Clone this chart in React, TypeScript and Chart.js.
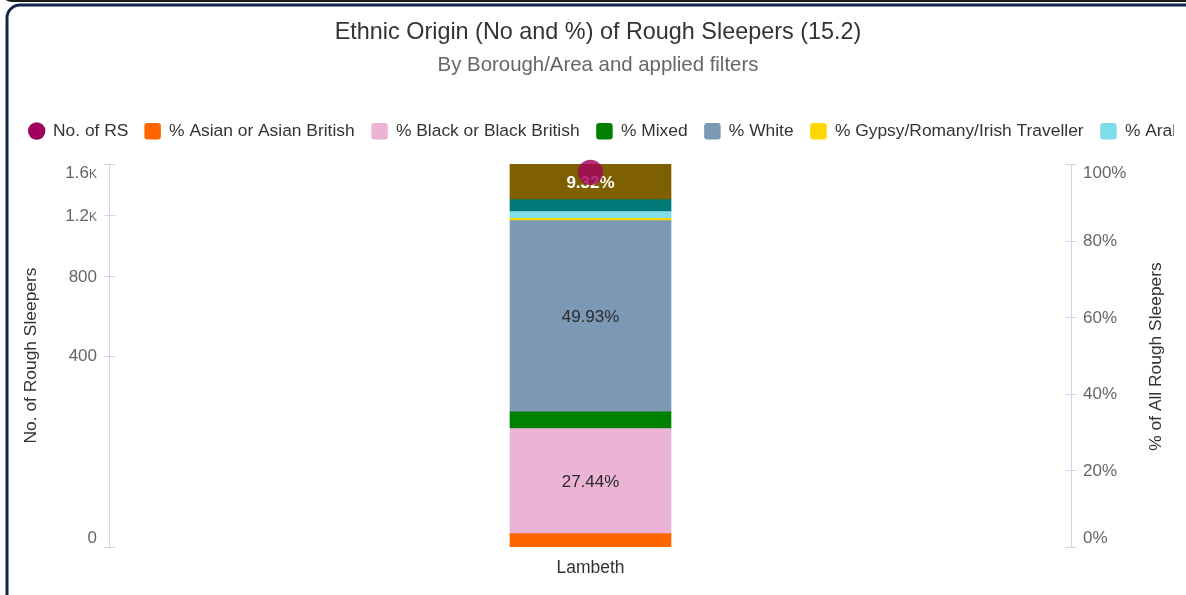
import React, { useEffect, useRef } from 'react';
import { Chart, LinearScale, registerables } from 'chart.js';

// ---- custom square-root scale (left axis of the reference is sqrt-scaled) ----
class SqrtScale extends LinearScale {
  static id = 'sqrt';
  static defaults = {};
  getPixelForValue(value: number) {
    const lo = Math.sqrt(Math.max(0, this.min));
    const hi = Math.sqrt(Math.max(0, this.max));
    const v = Math.sqrt(Math.max(0, value));
    return this.getPixelForDecimal((v - lo) / (hi - lo));
  }
  getValueForPixel(pixel: number) {
    const lo = Math.sqrt(Math.max(0, this.min));
    const hi = Math.sqrt(Math.max(0, this.max));
    const s = lo + this.getDecimalForPixel(pixel) * (hi - lo);
    return s * s;
  }
}
Chart.register(...registerables, SqrtScale as any);

// ---------------- DATA ----------------
const categories = ['Lambeth'];
const rsCount = [1530];
const asianPct = [3.5];
const blackPct = [27.44];
const mixedPct = [4.35];
const whitePct = [49.93];
const gypsyPct = [0.62];
const arabPct = [1.75];
const otherPct = [3.09];
const notKnownPct = [9.32];

const leftTickValues = [0, 400, 800, 1200, 1600];
const leftTickLabels = ['0', '400', '800', '1.2k', '1.6k'];
const rightTickValues = [0, 20, 40, 60, 80, 100];
const rightTickLabels = ['0%', '20%', '40%', '60%', '80%', '100%'];

const titleText = 'Ethnic Origin (No and %) of Rough Sleepers (15.2)';
const subtitleText = 'By Borough/Area and applied filters';
const leftAxisTitle = 'No. of Rough Sleepers';
const rightAxisTitle = '% of All Rough Sleepers';
const countSeriesName = 'No. of RS';

// ---------------- STYLE ----------------
const FONT = "'Liberation Sans', Arial, Helvetica, sans-serif";
const countColor = 'rgba(162, 4, 92, 0.82)';
const countLegendColor = '#a1025c';

const barSeries = [
  { label: '% Asian or Asian British', data: asianPct, color: '#ff6600', labelColor: '#2b2b2b', bold: false },
  { label: '% Black or Black British', data: blackPct, color: '#ebb3d6', labelColor: '#2b2b2b', bold: false },
  { label: '% Mixed', data: mixedPct, color: '#008000', labelColor: '#ffffff', bold: true },
  { label: '% White', data: whitePct, color: '#7b98b5', labelColor: '#2b2b2b', bold: false },
  { label: '% Gypsy/Romany/Irish Traveller', data: gypsyPct, color: '#ffd700', labelColor: '#2b2b2b', bold: false },
  { label: '% Arab', data: arabPct, color: '#7fdde9', labelColor: '#2b2b2b', bold: false },
  { label: '% Other Ethnic Group', data: otherPct, color: '#007a78', labelColor: '#ffffff', bold: true },
  { label: '% Not Known', data: notKnownPct, color: '#7f6000', labelColor: '#ffffff', bold: true },
];

const LABEL_MIN = 9;

const decorPlugin = {
  id: 'decor',
  beforeDraw(chart: any) {
    const ctx = chart.ctx as CanvasRenderingContext2D;
    const W = chart.width;
    ctx.save();
    ctx.fillStyle = '#ffffff';
    ctx.fillRect(0, 0, W, chart.height);

    // bottom edge of the container above
    ctx.strokeStyle = '#1a1a1a';
    ctx.lineWidth = 2;
    ctx.beginPath();
    ctx.moveTo(2, -20);
    ctx.lineTo(2, -9);
    ctx.arcTo(2, 1, 14, 1, 10);
    ctx.lineTo(W + 10, 1);
    ctx.stroke();

    // main rounded frame
    ctx.strokeStyle = '#15244a';
    ctx.lineWidth = 3;
    ctx.beginPath();
    ctx.moveTo(7, chart.height + 20);
    ctx.lineTo(7, 5 + 13);
    ctx.arcTo(7, 5, 20, 5, 13);
    ctx.lineTo(W + 20, 5);
    ctx.stroke();

    // title & subtitle
    ctx.textAlign = 'center';
    ctx.textBaseline = 'middle';
    ctx.fillStyle = '#333333';
    ctx.font = `23.4px ${FONT}`;
    ctx.fillText(titleText, 598, 32.5);
    ctx.fillStyle = '#666666';
    ctx.font = `20.4px ${FONT}`;
    ctx.fillText(subtitleText, 598, 65);

    // legend (single row, clipped at the frame edge)
    ctx.save();
    ctx.beginPath();
    ctx.rect(0, 105, 1174, 55);
    ctx.clip();
    ctx.font = `17.4px ${FONT}`;
    ctx.textAlign = 'left';
    ctx.textBaseline = 'middle';
    const ly = 131;
    let x = 28;
    // count series (circle marker)
    ctx.fillStyle = countLegendColor;
    ctx.beginPath();
    ctx.arc(x + 8.7, ly, 8.7, 0, Math.PI * 2);
    ctx.fill();
    x += 17.4 + 7.6;
    ctx.fillStyle = '#333333';
    ctx.fillText(countSeriesName, x, ly);
    x += ctx.measureText(countSeriesName).width + 16;
    barSeries.forEach((s) => {
      ctx.fillStyle = s.color;
      ctx.beginPath();
      (ctx as any).roundRect(x, ly - 8, 16.5, 16.5, 3);
      ctx.fill();
      x += 16.5 + 8.2;
      ctx.fillStyle = '#333333';
      ctx.fillText(s.label, x, ly);
      x += ctx.measureText(s.label).width + 16.6;
    });
    ctx.restore();
    ctx.restore();
  },
  afterDatasetDraw(chart: any, args: any) {
    const ds = chart.data.datasets[args.index];
    if (ds.type !== 'bar') return;
    const ctx = chart.ctx as CanvasRenderingContext2D;
    ds.data.forEach((v: number, i: number) => {
      if (v < LABEL_MIN) return;
      const el = args.meta.data[i];
      const cy = (el.y + el.base) / 2;
      ctx.save();
      ctx.textAlign = 'center';
      ctx.textBaseline = 'middle';
      ctx.font = `${ds.labelBold ? 'bold ' : ''}17px ${FONT}`;
      ctx.fillStyle = ds.labelColor;
      ctx.fillText(v.toFixed(2) + '%', el.x, cy + 1);
      ctx.restore();
    });
  },
  afterDraw(chart: any) {
    const ctx = chart.ctx as CanvasRenderingContext2D;
    const area = chart.chartArea;
    const yL = chart.scales.y;
    const yR = chart.scales.y1;
    ctx.save();
    ctx.strokeStyle = '#ccd6eb';
    ctx.lineWidth = 1;

    // left axis line & ticks
    const lx = Math.round(area.left) + 0.5;
    const lTop = yL.getPixelForValue(leftTickValues[leftTickValues.length - 1]);
    const lBot = yL.getPixelForValue(leftTickValues[0]);
    ctx.beginPath();
    ctx.moveTo(lx, lTop);
    ctx.lineTo(lx, lBot);
    leftTickValues.forEach((v) => {
      const py = Math.round(yL.getPixelForValue(v)) + 0.5;
      ctx.moveTo(lx - 5, py);
      ctx.lineTo(lx + 6, py);
    });
    ctx.stroke();

    // right axis line & ticks
    const rx = Math.round(area.right) - 0.5;
    const rTop = yR.getPixelForValue(rightTickValues[rightTickValues.length - 1]);
    const rBot = yR.getPixelForValue(rightTickValues[0]);
    ctx.beginPath();
    ctx.moveTo(rx, rTop);
    ctx.lineTo(rx, rBot);
    rightTickValues.forEach((v) => {
      const py = Math.round(yR.getPixelForValue(v)) + 0.5;
      ctx.moveTo(rx - 6, py);
      ctx.lineTo(rx + 5, py);
    });
    ctx.stroke();

    // tick labels
    ctx.fillStyle = '#666666';
    ctx.textBaseline = 'middle';
    ctx.font = `small-caps 17px ${FONT}`;
    ctx.textAlign = 'right';
    leftTickValues.forEach((v, i) => {
      let py = yL.getPixelForValue(v) + 1;
      if (i === 0) py -= 10;
      if (i === leftTickValues.length - 1) py += 8.5;
      ctx.fillText(leftTickLabels[i], lx - 12.5, py);
    });
    ctx.font = `17px ${FONT}`;
    ctx.textAlign = 'left';
    rightTickValues.forEach((v, i) => {
      let py = yR.getPixelForValue(v) + 1;
      if (i === 0) py -= 10;
      if (i === rightTickValues.length - 1) py += 8.5;
      ctx.fillText(rightTickLabels[i], rx + 11.5, py);
    });

    // axis titles
    ctx.fillStyle = '#333333';
    ctx.font = `17.4px ${FONT}`;
    ctx.textAlign = 'center';
    const midY = (area.top + area.bottom) / 2;
    ctx.save();
    ctx.translate(31, midY);
    ctx.rotate(-Math.PI / 2);
    ctx.fillText(leftAxisTitle, 0, 0);
    ctx.restore();
    ctx.save();
    ctx.translate(1156, midY + 1);
    ctx.rotate(-Math.PI / 2);
    ctx.fillText(rightAxisTitle, 0, 0);
    ctx.restore();
    ctx.restore();
  },
};

export default function App() {
  const ref = useRef<HTMLCanvasElement>(null);
  useEffect(() => {
    if (!ref.current) return;
    const datasets: any[] = [
      {
        type: 'line',
        label: countSeriesName,
        data: rsCount,
        yAxisID: 'y',
        xAxisID: 'x',
        showLine: false,
        pointRadius: 12.6,
        pointHoverRadius: 12.6,
        pointBackgroundColor: countColor,
        pointBorderWidth: 0,
        borderColor: countColor,
        order: 0,
        clip: false,
      },
      ...barSeries.map((s) => ({
        type: 'bar',
        label: s.label,
        data: s.data,
        backgroundColor: s.color,
        borderWidth: 0,
        yAxisID: 'y1',
        xAxisID: 'x',
        stack: 'pct',
        barThickness: 161,
        order: 1,
        labelColor: s.labelColor,
        labelBold: s.bold,
      })),
    ];
    const chart = new Chart(ref.current, {
      type: 'bar',
      data: { labels: categories, datasets },
      options: {
        responsive: false,
        animation: false,
        events: [],
        layout: { padding: { left: 109, right: 114, top: 164, bottom: 0 } },
        plugins: {
          legend: { display: false },
          title: { display: false },
          tooltip: { enabled: false },
        },
        scales: {
          x: {
            type: 'category',
            stacked: true,
            offset: true,
            grid: { display: false, drawTicks: false },
            border: { display: false },
            ticks: { color: '#333333', font: { family: FONT, size: 17.5 }, padding: 11 },
            afterFit: (s: any) => {
              s.height = 48;
            },
          },
          y: {
            type: 'sqrt' as any,
            display: false,
            position: 'left',
            min: 0,
            max: 1600,
          },
          y1: {
            type: 'linear',
            display: false,
            position: 'right',
            stacked: true,
            min: 0,
            max: 100,
          },
        },
      } as any,
      plugins: [decorPlugin],
    });
    return () => chart.destroy();
  }, []);
  return (
    <div style={{ position: 'absolute', left: 0, top: 0, width: 1186, height: 595, background: '#fff' }}>
      <canvas ref={ref} width={1186} height={595} style={{ display: 'block' }} />
    </div>
  );
}
